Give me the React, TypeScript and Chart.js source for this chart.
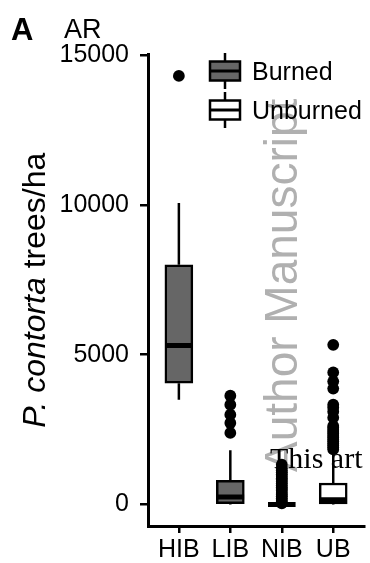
import React, { useEffect, useRef } from 'react';
import { Chart, registerables } from 'chart.js';

Chart.register(...registerables);

const FONT = '"Liberation Sans", Arial, sans-serif';

// ---- data ----
const categories = ['HIB', 'LIB', 'NIB', 'UB'];
const categoryGroup = ['Burned', 'Burned', 'Unburned', 'Unburned'];
const legendLabels = ['Burned', 'Unburned'];

const whiskerLow = [3500, 0, 0, 0];
const q1 = [4050, 30, 0, 20];
const medians = [5310, 250, 0, 160];
const q3 = [8000, 810, 0, 720];
const whiskerHigh = [10060, 1810, 0, 1650];

const outliersHIB = [14300];
const outliersLIB = [3630, 3330, 3000, 2720, 2390];
const outliersNIB = [40, 90, 150, 210, 280, 330, 390, 460, 520, 570, 640, 700, 760, 830, 880, 950, 1010, 1080, 1140, 1210, 1330];
const outliersUB = [5330, 4410, 4110, 3870, 3330, 3230, 3100, 2900, 2620, 2560, 2490, 2420, 2360, 2290, 2230, 2160, 2100, 2030, 1970, 1900, 1840];
const outliers = [outliersHIB, outliersLIB, outliersNIB, outliersUB];

const yTicks = [0, 5000, 10000, 15000];
const yRange = [-715, 15015];
const xRange = [0.4, 4.6];

// ---- styles ----
const groupFill: Record<string, string> = { Burned: '#666666', Unburned: '#ffffff' };
const BOX_PX = 28;
const BOX_HALF = 0.268;

const decorPlugin = {
  id: 'decor',
  beforeDatasetsDraw(chart: any) {
    const ctx = chart.ctx as CanvasRenderingContext2D;
    ctx.save();
    ctx.translate(297, 472);
    ctx.rotate(-Math.PI / 2);
    ctx.font = `46px ${FONT}`;
    ctx.fillStyle = '#b0b0b0';
    ctx.textAlign = 'left';
    ctx.textBaseline = 'alphabetic';
    ctx.fillText('Author Manuscript', 0, 0);
    ctx.restore();
  },
  afterDraw(chart: any) {
    const ctx = chart.ctx as CanvasRenderingContext2D;
    ctx.save();
    ctx.fillStyle = '#000';
    ctx.textAlign = 'left';
    ctx.textBaseline = 'alphabetic';
    ctx.font = `bold 31px ${FONT}`;
    ctx.fillText('A', 11, 40);
    ctx.font = `27px ${FONT}`;
    ctx.fillText('AR', 64, 38);
    ctx.restore();

    // y axis title with italic species name
    const { top, bottom } = chart.chartArea;
    ctx.save();
    ctx.fillStyle = '#000';
    ctx.translate(45, (top + bottom) / 2);
    ctx.rotate(-Math.PI / 2);
    ctx.textBaseline = 'alphabetic';
    ctx.textAlign = 'left';
    const p1 = 'P. contorta';
    const p2 = ' trees/ha';
    ctx.font = `italic 32px ${FONT}`;
    const w1 = ctx.measureText(p1).width;
    ctx.font = `32px ${FONT}`;
    const w2 = ctx.measureText(p2).width;
    const x0 = -(w1 + w2) / 2;
    ctx.font = `italic 32px ${FONT}`;
    ctx.fillText(p1, x0, 0);
    ctx.font = `32px ${FONT}`;
    ctx.fillText(p2, x0 + w1, 0);
    ctx.restore();

    // legend
    ctx.save();
    legendLabels.forEach((lab, i) => {
      const cy = 71 + i * 39;
      const cx = 225;
      ctx.strokeStyle = '#000';
      ctx.lineWidth = 2.5;
      ctx.beginPath();
      ctx.moveTo(cx, cy - 18);
      ctx.lineTo(cx, cy + 18);
      ctx.stroke();
      ctx.fillStyle = groupFill[lab];
      ctx.fillRect(cx - 15, cy - 9.5, 30, 19);
      ctx.strokeRect(cx - 15, cy - 9.5, 30, 19);
      ctx.lineWidth = 3;
      ctx.beginPath();
      ctx.moveTo(cx - 15, cy);
      ctx.lineTo(cx + 15, cy);
      ctx.stroke();
      ctx.fillStyle = '#000';
      ctx.font = `25px ${FONT}`;
      ctx.textBaseline = 'middle';
      ctx.fillText(lab, 252, cy + 2);
    });
    ctx.restore();

    // overlay text from the page
    ctx.save();
    ctx.fillStyle = '#000';
    ctx.font = '30px "Liberation Serif", serif';
    ctx.textBaseline = 'alphabetic';
    ctx.fillText('This art', 270, 468);
    ctx.restore();
  },
};

export default function App() {
  const ref = useRef<HTMLCanvasElement | null>(null);

  useEffect(() => {
    if (!ref.current) return;

    const boxDatasets = legendLabels.map((g) => ({
      type: 'bar' as const,
      label: g,
      data: categories
        .map((_, i) => (categoryGroup[i] === g ? { x: i + 1, y: [q1[i], q3[i]] } : null))
        .filter(Boolean),
      backgroundColor: groupFill[g],
      borderColor: '#000',
      borderWidth: 2.5,
      borderSkipped: false,
      barThickness: BOX_PX,
      grouped: false,
      order: 2,
    }));

    const whiskerData: any[] = [];
    categories.forEach((_, i) => {
      whiskerData.push({ x: i + 1, y: q3[i] }, { x: i + 1, y: whiskerHigh[i] }, { x: i + 1, y: null });
      whiskerData.push({ x: i + 1, y: q1[i] }, { x: i + 1, y: whiskerLow[i] }, { x: i + 1, y: null });
    });

    const medianData: any[] = [];
    categories.forEach((_, i) => {
      medianData.push(
        { x: i + 1 - BOX_HALF, y: medians[i] },
        { x: i + 1 + BOX_HALF, y: medians[i] },
        { x: i + 1 + BOX_HALF, y: null }
      );
    });

    const outlierData: any[] = [];
    outliers.forEach((arr, i) => arr.forEach((v) => outlierData.push({ x: i + 1, y: v })));

    const chart = new Chart(ref.current, {
      type: 'bar',
      data: {
        datasets: [
          {
            type: 'line',
            label: 'whiskers',
            data: whiskerData,
            borderColor: '#000',
            borderWidth: 2.5,
            pointRadius: 0,
            spanGaps: false,
            fill: false,
            order: 3,
          } as any,
          ...boxDatasets,
          {
            type: 'line',
            label: 'medians',
            data: medianData,
            borderColor: '#000',
            borderWidth: 5,
            borderCapStyle: 'butt',
            pointRadius: 0,
            spanGaps: false,
            fill: false,
            order: 1,
          } as any,
          {
            type: 'scatter',
            label: 'outliers',
            data: outlierData,
            backgroundColor: '#000',
            borderWidth: 0,
            pointRadius: 5.9,
            showLine: false,
            order: 0,
          } as any,
        ],
      },
      options: {
        responsive: false,
        animation: false,
        devicePixelRatio: 1,
        layout: { padding: { top: 54.5, right: 3, left: 0, bottom: 0 } },
        plugins: { legend: { display: false }, tooltip: { enabled: false }, title: { display: false } },
        scales: {
          x: {
            type: 'linear',
            offset: false,
            min: xRange[0],
            max: xRange[1],
            afterBuildTicks: (s: any) => {
              s.ticks = categories.map((_, i) => ({ value: i + 1 }));
            },
            afterFit: (s: any) => {
              s.height = 37;
            },
            ticks: {
              autoSkip: false,
              maxRotation: 0,
              color: '#000',
              padding: 2,
              font: { family: FONT, size: 25 },
              callback: (v: any) => categories[Math.round(Number(v)) - 1] ?? '',
            },
            grid: { offset: false, drawOnChartArea: false, drawTicks: true, tickLength: 7, color: '#000', lineWidth: 2.5 },
            border: { display: true, color: '#000', width: 3 },
          },
          y: {
            type: 'linear',
            min: yRange[0],
            max: yRange[1],
            afterBuildTicks: (s: any) => {
              s.ticks = yTicks.map((v) => ({ value: v }));
            },
            afterFit: (s: any) => {
              s.width = 148;
            },
            ticks: {
              color: '#000',
              padding: 11,
              font: { family: FONT, size: 25 },
              callback: (v: any) => String(v),
            },
            grid: { drawOnChartArea: false, drawTicks: true, tickLength: 8, color: '#000', lineWidth: 2.5 },
            border: { display: true, color: '#000', width: 3 },
          },
        },
      } as any,
      plugins: [decorPlugin],
    });

    return () => chart.destroy();
  }, []);

  return (
    <div style={{ position: 'absolute', left: 0, top: 0, width: 370, height: 563, background: '#fff' }}>
      <canvas ref={ref} width={370} height={563} style={{ display: 'block' }} />
    </div>
  );
}
